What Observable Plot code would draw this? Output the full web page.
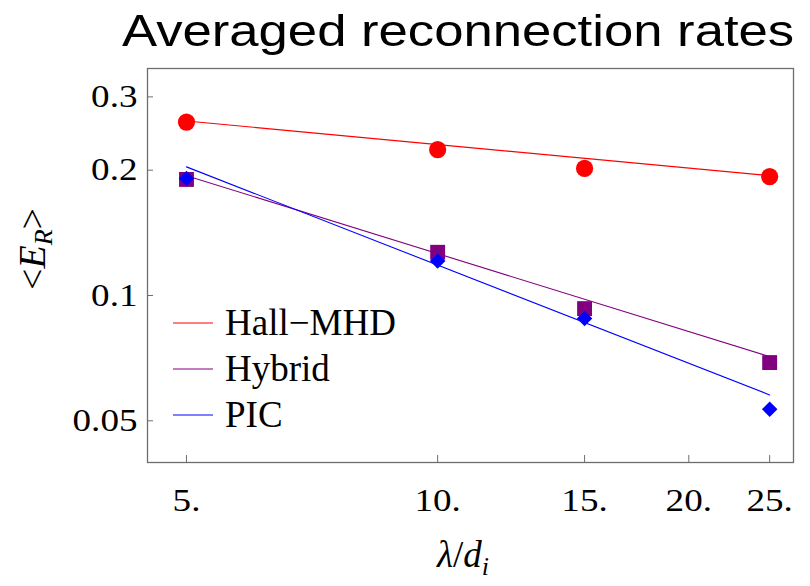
<!DOCTYPE html>
<html>
<head>
<meta charset="utf-8">
<script src="https://cdn.jsdelivr.net/npm/d3@7"></script>
<script src="https://cdn.jsdelivr.net/npm/@observablehq/plot@0.6"></script>
<style>
  body { margin: 0; background: #fff; }
</style>
</head>
<body>
<div id="chart"></div>
<script>
// Simulation box lengths (in ion inertial lengths)
const lengths = [5, 10, 15, 25];

// Time-averaged reconnection rates per model
const hallMHD = [0.261, 0.224, 0.202, 0.193];
const hybrid  = [0.190, 0.127, 0.093, 0.069];
const pic     = [0.191, 0.121, 0.088, 0.0533];

// Power-law fits, evaluated at both ends of the length range
const fitLengths = [5, 25];
const hallFit   = [0.2625, 0.194];
const hybridFit = [0.194, 0.0713];
const picFit    = [0.2037, 0.0577];

const seriesNames  = ["Hall−MHD", "Hybrid", "PIC"];
const seriesColors = ["#ff0000", "#800080", "#0000ff"];
const seriesSymbols = ["circle", "square", "diamond2"];

const xTicks = [5, 10, 15, 20, 25];
const yTicks = [0.05, 0.1, 0.2, 0.3];

const titleText = "Averaged reconnection rates";

// Tidy tables for the marks
const valueSets = [hallMHD, hybrid, pic];
const fitSets = [hallFit, hybridFit, picFit];
const points = seriesNames.flatMap((name, i) =>
  lengths.map((x, j) => ({name, x, y: valueSets[i][j]})));
const fits = seriesNames.flatMap((name, i) =>
  fitLengths.map((x, j) => ({name, x, y: fitSets[i][j]})));

const serif = "'Liberation Serif', 'Times New Roman', serif";
const sans = "'Liberation Sans', Arial, sans-serif";
const frameGray = "#6e6e6e";

const chart = Plot.plot({
  width: 810,
  height: 586,
  marginLeft: 147,
  marginRight: 17,
  marginTop: 68,
  marginBottom: 124,
  style: {fontFamily: serif, fontSize: "32px", color: "#000", background: "#fff"},
  x: {type: "log", domain: [4.49, 26.7]},
  y: {type: "log", domain: [0.0397, 0.351]},
  color: {domain: seriesNames, range: seriesColors},
  symbol: {domain: seriesNames, range: seriesSymbols},
  marks: [
    Plot.frame({stroke: frameGray, strokeWidth: 1.3}),
    Plot.axisX(xTicks, {
      anchor: "bottom", tickSize: -7, tickPadding: 33,
      tickFormat: d => d + ".", stroke: frameGray, fill: "#000",
      fontSize: 32, label: null
    }),
    Plot.axisY(yTicks, {
      anchor: "left", tickSize: -6, tickPadding: 16,
      tickFormat: d => String(d), stroke: frameGray, fill: "#000",
      fontSize: 32, label: null
    }),
    Plot.line(fits, {x: "x", y: "y", z: "name", stroke: "name", strokeWidth: 1.1}),
    Plot.dot(points.filter(d => d.name === seriesNames[0]),
      {x: "x", y: "y", fill: "name", symbol: "name", r: 8.6}),
    Plot.dot(points.filter(d => d.name === seriesNames[1]),
      {x: "x", y: "y", fill: "name", symbol: "name", r: 8.4}),
    Plot.dot(points.filter(d => d.name === seriesNames[2]),
      {x: "x", y: "y", fill: "name", symbol: "name", r: 7})
  ]
});

document.getElementById("chart").append(chart);

const svg = d3.select(chart);

// Widen the tick labels slightly, as in the typeset original
svg.selectAll('[aria-label="x-axis tick label"] text, [aria-label="y-axis tick label"] text')
  .attr("transform", function () {
    return (this.getAttribute("transform") || "") + " scale(1.16,1)";
  });

// Title
svg.append("text")
  .attr("transform", "translate(122,46) scale(1.17,1)")
  .attr("text-anchor", "start")
  .attr("font-family", sans)
  .attr("font-size", 45)
  .attr("fill", "#000")
  .text(titleText);

// x-axis label: λ/d_i
const xl = svg.append("text")
  .attr("x", 463).attr("y", 567)
  .attr("text-anchor", "middle")
  .attr("font-family", serif)
  .attr("font-size", 37)
  .attr("fill", "#000");
xl.append("tspan").attr("font-style", "italic").text("λ");
xl.append("tspan").text("/");
xl.append("tspan").attr("font-style", "italic").text("d");
xl.append("tspan").attr("font-style", "italic").attr("font-size", 26).attr("dy", 8).text("i");

// y-axis label: <E_R>
const yl = svg.append("text")
  .attr("transform", "translate(45,249) rotate(-90)")
  .attr("text-anchor", "middle")
  .attr("font-family", serif)
  .attr("font-size", 38)
  .attr("fill", "#000");
yl.append("tspan").text("<");
yl.append("tspan").attr("font-style", "italic").text("E");
yl.append("tspan").attr("font-style", "italic").attr("font-size", 26).attr("dy", 7).text("R");
yl.append("tspan").attr("dy", -7).text(">");

// Legend in the lower-left corner of the frame
const legendRows = [323, 369, 415];
const legend = svg.append("g").attr("aria-label", "legend");
seriesNames.forEach((name, i) => {
  legend.append("line")
    .attr("x1", 173).attr("x2", 213)
    .attr("y1", legendRows[i]).attr("y2", legendRows[i])
    .attr("stroke", seriesColors[i]).attr("stroke-width", 1.1);
  legend.append("text")
    .attr("x", 225).attr("y", legendRows[i] + 12)
    .attr("text-anchor", "start")
    .attr("font-family", serif)
    .attr("font-size", 37)
    .attr("fill", "#000")
    .text(name);
});
</script>
</body>
</html>
